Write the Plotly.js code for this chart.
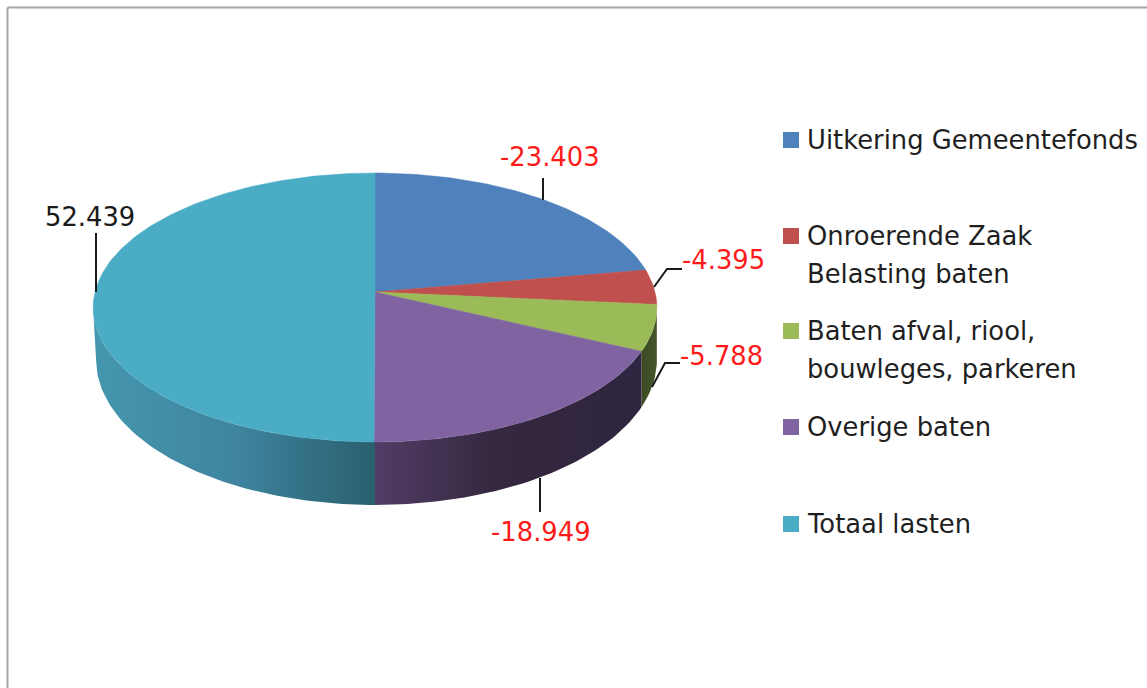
<!DOCTYPE html>
<html>
<head>
<meta charset="utf-8">
<script src="https://cdn.plot.ly/plotly-3.0.1.min.js"></script>
<style>html,body{margin:0;padding:0;background:#fff;overflow:hidden}#chart{width:1147px;height:688px}</style>
</head>
<body>
<div id="chart"></div>
<script>
// Data
const categories = ["Uitkering Gemeentefonds", "Onroerende Zaak Belasting baten", "Baten afval, riool, bouwleges, parkeren", "Overige baten", "Totaal lasten"];
const values = [-23.403, -4.395, -5.788, -18.949, 52.439];
const legendLines = [["Uitkering Gemeentefonds"], ["Onroerende Zaak", "Belasting baten"], ["Baten afval, riool,", "bouwleges, parkeren"], ["Overige baten"], ["Totaal lasten"]];
const sliceColors = ["#4f81bd", "#c0504d", "#9bbb59", "#8064a2", "#4bacc6"];

// Perspective pie geometry (pixel-like axis units)
const FONT = '"DejaVu Sans", sans-serif';
const LEGEND_FONT_SIZE = 25.8, LABEL_FONT_SIZE = 25.8;
const cx = 375, top0 = {a: 280, b: 132.7, cy: 292}, low0 = {a: 280, b: 143, cy: 343.3}, lowLeft = {a: 277, b: 143, cy: 343.3}, k = 0.1152;
const project = (deg, f) => {
  const t = deg * Math.PI / 180, u = Math.sin(t), v = Math.cos(t), w = 1 + k * v;
  return [cx + f.a * u / w, f.cy - f.b * v / w];
};
const arc = (d0, d1, f) => {
  const n = Math.max(2, Math.ceil(Math.abs(d1 - d0) / 1.2)), out = [];
  for (let i = 0; i <= n; i++) out.push(project(d0 + (d1 - d0) * i / n, f));
  return out;
};
const total = values.reduce((s, v) => s + Math.abs(v), 0);
const edges = [0];
values.forEach(v => edges.push(edges[edges.length - 1] + Math.abs(v) / total * 360));

const polyTrace = (pts, extra) => Object.assign({
  type: "scatter", mode: "lines", x: pts.map(p => p[0]), y: pts.map(p => p[1]),
  fill: "toself", hoverinfo: "skip", showlegend: false
}, extra);

const traces = [];
// side walls: only green, purple and teal are visible
const wall = (d0, d1, lower, scale) => {
  const pts = arc(d0, d1, top0).concat(arc(d1, d0, lower));
  pts.push(pts[0]);
  traces.push(polyTrace(pts, {line: {width: 0}, fillgradient: {type: "horizontal", colorscale: scale}}));
};
wall(edges[2], edges[3], low0, [[0, "#3b4a23"], [1, "#46562a"]]);
wall(edges[3], 180, low0, [[0, "#513d66"], [0.45, "#35283f"], [1, "#2f2540"]]);
wall(180, 263, lowLeft, [[0, "#4596ae"], [0.5, "#3f85a0"], [1, "#2a5f6e"]]);
// top faces
values.forEach((v, i) => {
  const pts = [[cx, top0.cy]].concat(arc(edges[i], edges[i + 1], top0));
  pts.push([cx, top0.cy]);
  traces.push(polyTrace(pts, {line: {width: 0.5, color: sliceColors[i]}, fillcolor: sliceColors[i], name: categories[i]}));
});

const annotations = [];
const text = (x, y, t, size, color, anchor) => annotations.push({
  x, y, xref: "x", yref: "y", text: t, showarrow: false, xanchor: anchor, yanchor: "middle",
  font: {family: FONT, size, color}
});
// data labels
const labelPos = [[550, 157], [723, 260], [721, 356], [541, 532], [90, 217]];
values.forEach((v, i) => text(labelPos[i][0], labelPos[i][1], v.toFixed(3), LABEL_FONT_SIZE, v < 0 ? "#ff1a1a" : "#1a1a1a", "center"));
// legend
const legendY = [[140], [236, 274], [331, 369], [427], [524]];
const shapes = [
  {type: "line", x0: 7.5, x1: 7.5, y0: 7.5, y1: 688, xref: "x", yref: "y", line: {color: "#a6a6a6", width: 2}},
  {type: "line", x0: 7.5, x1: 1147, y0: 7.5, y1: 7.5, xref: "x", yref: "y", line: {color: "#a6a6a6", width: 2}}
];
legendLines.forEach((lines, i) => {
  shapes.push({type: "rect", xref: "x", yref: "y", x0: 783, x1: 799, y0: legendY[i][0] - 8, y1: legendY[i][0] + 8, fillcolor: sliceColors[i], line: {width: 0}});
  lines.forEach((l, j) => text(805, legendY[i][j], l, LEGEND_FONT_SIZE, "#1f1f1f", "left"));
});
// leader lines
const leaders = ["M543,178 L543,200", "M654,287 L667,269 L682,269", "M652,387 L665,363 L680,363", "M540,478 L540,512", "M96,233 L96,292"];
leaders.forEach(p => shapes.push({type: "path", path: p, xref: "x", yref: "y", layer: "above", line: {color: "#1a1a1a", width: 2}}));

Plotly.newPlot("chart", traces, {
  width: 1147, height: 688, margin: {l: 0, r: 0, t: 0, b: 0},
  paper_bgcolor: "#ffffff", plot_bgcolor: "#ffffff", showlegend: false,
  xaxis: {range: [0, 1147], visible: false, fixedrange: true},
  yaxis: {range: [688, 0], visible: false, fixedrange: true},
  annotations, shapes
}, {displayModeBar: false, staticPlot: true});
</script>
</body>
</html>
